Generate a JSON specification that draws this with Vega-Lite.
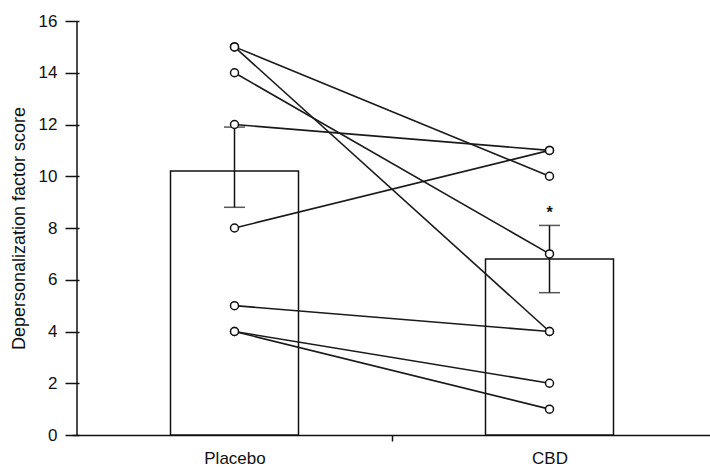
{
  "$schema": "https://vega.github.io/schema/vega-lite/v6.json",
  "autosize": "none",
  "width": 640,
  "height": 414,
  "padding": {"left": 72, "top": 21, "right": 0, "bottom": 34},
  "background": "white",
  "config": {"view": {"stroke": null}, "font": "Liberation Sans"},
  "datasets": {
    "bars": [
      {"group": 1, "mean": 10.2, "lo": 8.8, "hi": 11.9, "sig": ""},
      {"group": 2, "mean": 6.8, "lo": 5.5, "hi": 8.1, "sig": "*"}
    ],
    "subjects": [
      {"subject": "s1", "group": 1, "score": 15}, {"subject": "s1", "group": 2, "score": 10},
      {"subject": "s2", "group": 1, "score": 15}, {"subject": "s2", "group": 2, "score": 4},
      {"subject": "s3", "group": 1, "score": 14}, {"subject": "s3", "group": 2, "score": 7},
      {"subject": "s4", "group": 1, "score": 12}, {"subject": "s4", "group": 2, "score": 11},
      {"subject": "s5", "group": 1, "score": 8}, {"subject": "s5", "group": 2, "score": 11},
      {"subject": "s6", "group": 1, "score": 5}, {"subject": "s6", "group": 2, "score": 4},
      {"subject": "s7", "group": 1, "score": 4}, {"subject": "s7", "group": 2, "score": 2},
      {"subject": "s8", "group": 1, "score": 4}, {"subject": "s8", "group": 2, "score": 1}
    ],
    "yline": [{"x": 0.5, "y0": 0, "y1": 16}]
  },
  "layer": [
    {
      "data": {"name": "bars"},
      "mark": {"type": "bar", "width": 128, "fill": "white", "stroke": "#111", "strokeWidth": 1.5},
      "encoding": {
        "x": {
          "field": "group", "type": "quantitative",
          "scale": {"domain": [0.5, 2.5], "nice": false, "zero": false},
          "axis": {
            "title": null, "grid": false,
            "values": [1, 1.5, 2],
            "labelExpr": "datum.value == 1 ? 'Placebo' : datum.value == 2 ? 'CBD' : ''",
            "tickColor": {"condition": {"test": "datum.value == 1.5", "value": "#111"}, "value": "transparent"},
            "tickSize": 6, "tickWidth": 1.5,
            "domainColor": "#111", "domainWidth": 1.5,
            "labelFontSize": 17, "labelColor": "#111", "labelPadding": 9
          }
        },
        "y": {
          "field": "mean", "type": "quantitative",
          "scale": {"domain": [0, 16], "nice": false},
          "axis": {
            "title": "Depersonalization factor score",
            "titleFontSize": 18, "titleFontWeight": "normal", "titleColor": "#111", "titlePadding": 10,
            "values": [0, 2, 4, 6, 8, 10, 12, 14, 16],
            "grid": false, "domain": false, "offset": -7,
            "tickSize": 14, "tickWidth": 1.5, "tickColor": "#111",
            "labelFontSize": 17, "labelColor": "#111", "labelPadding": 8
          }
        }
      }
    },
    {
      "data": {"name": "yline"},
      "mark": {"type": "rule", "stroke": "#111", "strokeWidth": 1.5},
      "encoding": {
        "x": {"field": "x", "type": "quantitative"},
        "y": {"field": "y0", "type": "quantitative"},
        "y2": {"field": "y1"}
      }
    },
    {
      "data": {"name": "bars"},
      "mark": {"type": "rule", "stroke": "#111", "strokeWidth": 1.5},
      "encoding": {
        "x": {"field": "group", "type": "quantitative"},
        "y": {"field": "lo", "type": "quantitative"},
        "y2": {"field": "hi"}
      }
    },
    {
      "data": {"name": "bars"},
      "mark": {"type": "tick", "orient": "horizontal", "size": 21, "thickness": 1.5, "color": "#111"},
      "encoding": {
        "x": {"field": "group", "type": "quantitative"},
        "y": {"field": "lo", "type": "quantitative"}
      }
    },
    {
      "data": {"name": "bars"},
      "mark": {"type": "tick", "orient": "horizontal", "size": 21, "thickness": 1.5, "color": "#111"},
      "encoding": {
        "x": {"field": "group", "type": "quantitative"},
        "y": {"field": "hi", "type": "quantitative"}
      }
    },
    {
      "data": {"name": "bars"},
      "mark": {"type": "text", "dy": -12, "fontSize": 16, "fontWeight": "bold", "color": "#111"},
      "encoding": {
        "x": {"field": "group", "type": "quantitative"},
        "y": {"field": "hi", "type": "quantitative"},
        "text": {"field": "sig"}
      }
    },
    {
      "data": {"name": "subjects"},
      "mark": {"type": "line", "stroke": "#1a1a1a", "strokeWidth": 1.6},
      "encoding": {
        "x": {"field": "group", "type": "quantitative"},
        "y": {"field": "score", "type": "quantitative"},
        "detail": {"field": "subject"}
      }
    },
    {
      "data": {"name": "subjects"},
      "mark": {"type": "point", "shape": "circle", "size": 64, "filled": true, "fill": "white", "stroke": "#111", "strokeWidth": 1.5, "opacity": 1},
      "encoding": {
        "x": {"field": "group", "type": "quantitative"},
        "y": {"field": "score", "type": "quantitative"}
      }
    }
  ]
}
